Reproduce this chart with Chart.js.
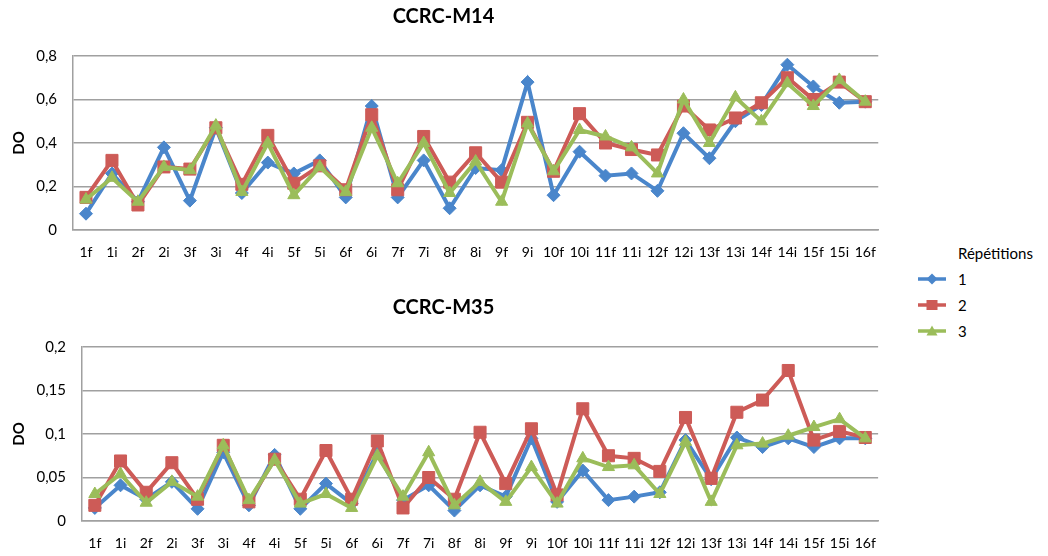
<!DOCTYPE html>
<html>
<head>
<meta charset="utf-8">
<script src="https://cdn.jsdelivr.net/npm/chart.js@4/dist/chart.umd.min.js"></script>
<style>
  body { margin: 0; background: #fff; font-family: Lato, sans-serif; }
  .box { position: absolute; left: 0; }
  #legend { position: absolute; left: 918px; top: 240px; font-size: 15px; color: #000; }
  #legend .head { margin-left: 40px; height: 26px; line-height: 26px; }
  #legend .row { height: 26px; display: flex; align-items: center; }
  #legend .row span { margin-left: 12px; }
</style>
</head>
<body>
<div class="box" style="top:0"><canvas id="topChart" width="890" height="275"></canvas></div>
<div class="box" style="top:285px"><canvas id="botChart" width="890" height="271"></canvas></div>
<div id="legend"></div>
<script>
// catégories (échantillons)
var categories = ["1f","1i","2f","2i","3f","3i","4f","4i","5f","5i","6f","6i","7f","7i","8f","8i",
                  "9f","9i","10f","10i","11f","11i","12f","12i","13f","13i","14f","14i","15f","15i","16f"];
var seriesNames = ["1", "2", "3"];

// CCRC-M14
var m14Rep1 = [0.075,0.26,0.13,0.38,0.135,0.47,0.17,0.31,0.26,0.32,0.15,0.57,0.15,0.32,0.10,0.285,
               0.275,0.68,0.16,0.36,0.25,0.26,0.18,0.445,0.33,0.50,0.575,0.76,0.66,0.585,0.59];
var m14Rep2 = [0.15,0.32,0.115,0.29,0.28,0.47,0.21,0.435,0.215,0.295,0.185,0.53,0.185,0.43,0.22,0.355,
               0.22,0.495,0.27,0.535,0.40,0.37,0.345,0.57,0.46,0.515,0.585,0.70,0.60,0.68,0.59];
var m14Rep3 = [0.14,0.24,0.13,0.29,0.275,0.48,0.175,0.40,0.16,0.29,0.175,0.47,0.215,0.40,0.17,0.315,
               0.13,0.49,0.27,0.46,0.43,0.38,0.26,0.60,0.40,0.61,0.50,0.675,0.57,0.69,0.59];

// CCRC-M35
var m35Rep1 = [0.015,0.041,0.025,0.045,0.014,0.079,0.018,0.076,0.014,0.043,0.02,0.078,0.024,0.041,0.012,0.041,
               0.028,0.095,0.022,0.058,0.024,0.028,0.033,0.093,0.048,0.096,0.085,0.095,0.085,0.095,0.095];
var m35Rep2 = [0.018,0.069,0.033,0.067,0.025,0.087,0.022,0.071,0.025,0.081,0.025,0.092,0.015,0.05,0.025,0.102,
               0.043,0.106,0.03,0.129,0.075,0.072,0.057,0.119,0.049,0.125,0.139,0.173,0.093,0.103,0.096];
var m35Rep3 = [0.031,0.054,0.021,0.045,0.028,0.087,0.024,0.07,0.02,0.031,0.015,0.075,0.028,0.079,0.018,0.045,
               0.022,0.062,0.02,0.072,0.062,0.064,0.031,0.091,0.022,0.087,0.089,0.098,0.108,0.117,0.095];

var colors = ["#4a86cb", "#cd5b57", "#9bbd5a"];
var markers = ["rectRot", "rect", "triangle"];
var radii = [6.5, 8.5, 7];
var gridGray = "#a0a0a0";

function makeDatasets(values) {
    return values.map(function (v, i) {
        return {
            label: seriesNames[i],
            data: v,
            borderColor: colors[i],
            backgroundColor: colors[i],
            borderWidth: 4,
            pointStyle: markers[i],
            pointRadius: radii[i],
            pointBorderWidth: 1,
            pointBackgroundColor: colors[i],
            pointBorderColor: colors[i],
            tension: 0,
            order: 3 - i
        };
    });
}

function fmt(v) {
    return String(Number(v.toFixed(2))).replace(".", ",");
}

function makeChart(id, title, values, yMax, yStep, yWidth, xHeight, titlePad) {
    var ctx = document.getElementById(id).getContext("2d");
    return new Chart(ctx, {
        type: "line",
        data: { labels: categories, datasets: makeDatasets(values) },
        options: {
            responsive: false,
            animation: false,
            layout: { padding: { left: 0, right: 3, top: 0, bottom: 0 } },
            plugins: {
                legend: { display: false },
                tooltip: { enabled: false },
                title: {
                    display: true,
                    text: title,
                    color: "#000",
                    font: { family: "Lato", size: 20, weight: "bold", lineHeight: 1.2 },
                    padding: titlePad
                }
            },
            scales: {
                x: {
                    offset: true,
                    grid: { display: false, drawTicks: false },
                    border: { display: true, color: gridGray, width: 1.5 },
                    ticks: { color: "#000", font: { family: "Lato", size: 14 }, padding: 14,
                             maxRotation: 0, autoSkip: false },
                    afterFit: function (s) { s.height = xHeight; }
                },
                y: {
                    min: 0,
                    max: yMax,
                    grid: { color: gridGray, lineWidth: 1.5, drawTicks: false },
                    border: { display: true, color: gridGray, width: 1.5 },
                    ticks: { stepSize: yStep, color: "#000", font: { family: "Lato", size: 15 }, padding: 16,
                             callback: function (v) { return fmt(v); } },
                    title: { display: true, text: "DO", color: "#000",
                             font: { family: "Lato", size: 15, weight: "bold" }, padding: { top: 10, bottom: 4 } },
                    afterFit: function (s) { s.width = yWidth; }
                }
            }
        }
    });
}

makeChart("topChart", "CCRC-M14", [m14Rep1, m14Rep2, m14Rep3], 0.8, 0.2, 73, 45, { top: 5, bottom: 27 });
makeChart("botChart", "CCRC-M35", [m35Rep1, m35Rep2, m35Rep3], 0.2, 0.05, 82, 35, { top: 11, bottom: 27 });

// légende commune
var svgShapes = [
    '<polygon points="14,0.5 19.5,6 14,11.5 8.5,6" />',
    '<rect x="8.5" y="1" width="11" height="10" />',
    '<polygon points="14,0.5 19.5,10.5 8.5,10.5" />'
];
var html = '<div class="head">Répétitions</div>';
seriesNames.forEach(function (name, i) {
    html += '<div class="row"><svg width="28" height="12"><line x1="0" y1="6" x2="28" y2="6" stroke="' + colors[i] +
            '" stroke-width="3.5"/><g fill="' + colors[i] + '">' + svgShapes[i] + '</g></svg><span>' + name + '</span></div>';
});
document.getElementById("legend").innerHTML = html;
</script>
</body>
</html>
